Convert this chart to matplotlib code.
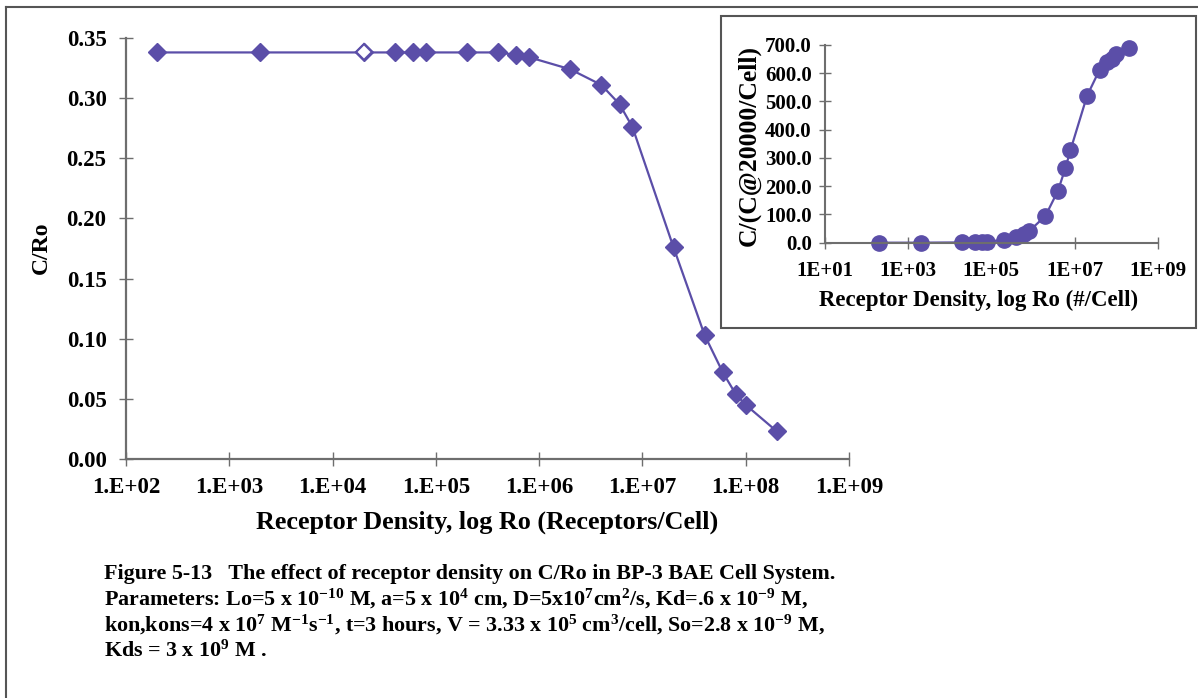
import numpy as np
import matplotlib
matplotlib.use("Agg")
import matplotlib.pyplot as plt
from matplotlib.patches import Rectangle
from matplotlib.lines import Line2D
from matplotlib.ticker import FixedLocator, NullLocator, FuncFormatter

plt.rcParams['font.family'] = ['Liberation Serif', 'DejaVu Serif']
plt.rcParams['font.weight'] = 'bold'
plt.rcParams['mathtext.fontset'] = 'custom'
plt.rcParams['mathtext.rm'] = 'Liberation Serif:bold'
plt.rcParams['mathtext.it'] = 'Liberation Serif:bold'
plt.rcParams['mathtext.bf'] = 'Liberation Serif:bold'
plt.rcParams['mathtext.default'] = 'rm'

# densidad de receptores (Receptores/Celula) y C/Ro
ro = [2e2, 2e3, 2e4, 4e4, 6e4, 8e4, 2e5, 4e5, 6e5, 8e5,
      2e6, 4e6, 6e6, 8e6, 2e7, 4e7, 6e7, 8e7, 1e8, 2e8]
c_ro = [0.338, 0.338, 0.338, 0.338, 0.338, 0.338, 0.338, 0.338, 0.336, 0.334,
        0.324, 0.311, 0.295, 0.276, 0.176, 0.103, 0.072, 0.054, 0.045, 0.023]
ref_ro = 2e4   # punto de referencia (marcador vacio)

# grafico chico: C/(C@20000/Cell)
c_rel = [0.0, 0.1, 1.0, 2.0, 3.0, 4.0, 10.0, 20.0, 30.0, 40.0,
         95.0, 184.0, 263.0, 328.0, 520.0, 612.0, 640.0, 650.0, 668.0, 690.0]

xticks_main = [1e2, 1e3, 1e4, 1e5, 1e6, 1e7, 1e8, 1e9]
yticks_main = [0.00, 0.05, 0.10, 0.15, 0.20, 0.25, 0.30, 0.35]
xticks_ins = [1e1, 1e3, 1e5, 1e7, 1e9]
yticks_ins = [0, 100, 200, 300, 400, 500, 600, 700]

violeta = '#5b4ea8'
gris = '#6e6e6e'

W, H = 1198, 698
fig = plt.figure(figsize=(W / 100, H / 100), dpi=100)


def px(x0, y0, x1, y1):
    # rectangulo en pixeles -> coordenadas de figura
    return [x0 / W, 1 - y1 / H, (x1 - x0) / W, (y1 - y0) / H]


def estilo(ax, largo, grosor):
    for s in ['top', 'right']:
        ax.spines[s].set_visible(False)
    for s in ['left', 'bottom']:
        ax.spines[s].set_color(gris)
        ax.spines[s].set_linewidth(grosor)
    ax.tick_params(direction='inout', length=largo, width=1, color=gris)
    ax.xaxis.set_minor_locator(NullLocator())
    ax.set_facecolor('none')


# ---- grafico principal
ax = fig.add_axes(px(126, 38, 849, 459))
ax.set_xscale('log')
ax.plot(ro, c_ro, color=violeta, lw=1.6, marker='D', ms=9.2,
        mfc=violeta, mec=violeta, zorder=3)
i = ro.index(ref_ro)
ax.plot([ro[i]], [c_ro[i]], ls='none', marker='D', ms=8.4,
        mfc='white', mec=violeta, mew=1.6, zorder=4)
ax.set_xlim(1e2, 1e9)
ax.set_ylim(0, 0.35)
ax.xaxis.set_major_locator(FixedLocator(xticks_main))
ax.xaxis.set_major_formatter(FuncFormatter(lambda v, p: '1.E+%02d' % round(np.log10(v))))
ax.set_yticks(yticks_main)
ax.yaxis.set_major_formatter(FuncFormatter(lambda v, p: '%.2f' % v))
estilo(ax, 10, 1.6)
ax.tick_params(axis='both', labelsize=16.5, pad=8)
ax.tick_params(axis='y', pad=9)

fig.text(487 / W, 1 - 522 / H, 'Receptor Density, log Ro (Receptors/Cell)',
         ha='center', va='center', fontsize=18.8, fontweight='bold')
fig.text(41 / W, 1 - 248 / H, 'C/Ro', rotation=90,
         ha='center', va='center', fontsize=17, fontweight='bold')

# ---- recuadro
fig.add_artist(Rectangle((720.7 / W, 1 - 327.7 / H), 475 / W, 311.7 / H,
                         transform=fig.transFigure, facecolor='white',
                         edgecolor='#555555', lw=1.5, zorder=1))

axi = fig.add_axes(px(825, 45, 1157.7, 242.7))
axi.set_zorder(2)
axi.set_xscale('log')
axi.plot(ro, c_rel, color=violeta, lw=1.6, marker='o', ms=11,
         mfc=violeta, mec=violeta, clip_on=False)
axi.set_xlim(1e1, 1e9)
axi.set_ylim(0, 700)
axi.xaxis.set_major_locator(FixedLocator(xticks_ins))
axi.xaxis.set_major_formatter(FuncFormatter(lambda v, p: '1E+%02d' % round(np.log10(v))))
axi.set_yticks(yticks_ins)
axi.yaxis.set_major_formatter(FuncFormatter(lambda v, p: '%.1f' % v))
estilo(axi, 9, 1.5)
axi.tick_params(axis='both', labelsize=15)
axi.tick_params(axis='x', pad=9)
axi.tick_params(axis='y', pad=5)

fig.text(979 / W, 1 - 300 / H, 'Receptor Density, log Ro (#/Cell)',
         ha='center', va='center', fontsize=16.5, fontweight='bold')
fig.text(749 / W, 1 - 145 / H, 'C/(C@20000/Cell)', rotation=90,
         ha='center', va='center', fontsize=18.5, fontweight='bold')

# ---- marco de la figura
fig.add_artist(Line2D([6 / W, 1], [1 - 7 / H, 1 - 7 / H], transform=fig.transFigure,
                      color='#555555', lw=1.5))
fig.add_artist(Line2D([6 / W, 6 / W], [1 - 7 / H, 0], transform=fig.transFigure,
                      color='#555555', lw=1.5))

# ---- leyenda de la figura
lineas = [
    'Figure 5-13   The effect of receptor density on C/Ro in BP-3 BAE Cell System.',
    r'Parameters: Lo=5 x 10$^{-10}$ M, a=5 x 10$^{4}$ cm, D=5x10$^{7}$cm$^{2}$/s, Kd=.6 x 10$^{-9}$ M,',
    r'kon,kons=4 x 10$^{7}$ M$^{-1}$s$^{-1}$, t=3 hours, V = 3.33 x 10$^{5}$ cm$^{3}$/cell, So=2.8 x 10$^{-9}$ M,',
    r'Kds = 3 x 10$^{9}$ M .',
]
base = [579, 605, 631, 657]
for txt, yb in zip(lineas, base):
    fig.text(104 / W, 1 - yb / H, txt, ha='left', va='baseline',
             fontsize=15.8, fontweight='bold')

fig.savefig('out.png', dpi=100, facecolor='white')
